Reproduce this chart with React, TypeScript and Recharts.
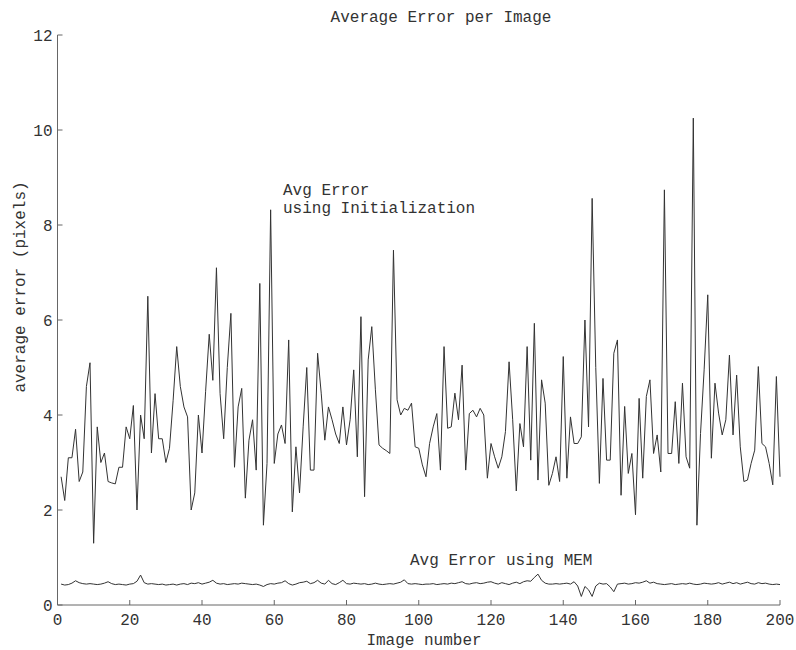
import React from 'react'
import { LineChart, Line, XAxis, YAxis } from 'recharts'

// Average error per image: initialization vs MEM (images 1..200)

const initError = [
  2.7, 2.2, 3.1, 3.1, 3.7, 2.6, 2.8, 4.6, 5.1, 1.3,
  3.75, 3.0, 3.2, 2.6, 2.57, 2.55, 2.9, 2.9, 3.75, 3.5,
  4.2, 2.0, 4.0, 3.5, 6.5, 3.2, 4.45, 3.5, 3.5, 3.0,
  3.3, 4.3, 5.44, 4.6, 4.17, 3.96, 2.0, 2.36, 4.0, 3.2,
  4.5, 5.7, 4.73, 7.1, 4.45, 3.5, 5.0, 6.14, 2.9, 4.17,
  4.56, 2.25, 3.47, 3.9, 2.84, 6.77, 1.68, 2.98, 8.32, 2.98,
  3.6, 3.79, 3.4, 5.58, 1.96, 3.33, 2.36, 3.75, 5.0, 2.84,
  2.84, 5.3, 4.46, 3.47, 4.17, 3.9, 3.6, 3.4, 4.17, 3.37,
  3.9, 4.95, 3.12, 6.07, 2.28, 5.16, 5.86, 4.53, 3.37, 3.3,
  3.25, 3.19, 7.47, 4.32, 4.0, 4.14, 4.1, 4.25, 3.33, 3.3,
  2.95, 2.7, 3.4, 3.75, 4.03, 2.84, 5.44, 3.72, 3.75, 4.46,
  3.9, 5.05, 2.84, 4.03, 4.1, 3.96, 4.14, 4.0, 2.67, 3.4,
  3.12, 2.88, 3.12, 3.65, 5.12, 3.9, 2.4, 3.82, 3.33, 5.44,
  3.05, 5.93, 2.63, 4.74, 4.25, 2.52, 2.77, 3.12, 2.6, 5.23,
  2.67, 3.96, 3.4, 3.4, 3.54, 6.0, 3.75, 8.56, 5.0, 2.56,
  4.77, 3.05, 3.05, 5.3, 5.58, 2.31, 4.18, 2.77, 3.19, 1.9,
  4.35, 2.67, 4.39, 4.74, 3.19, 3.58, 2.8, 8.74, 3.19, 3.19,
  4.28, 2.98, 4.67, 3.12, 2.88, 10.25, 1.68, 3.61, 4.95, 6.53,
  3.09, 4.67, 4.04, 3.58, 3.9, 5.26, 3.58, 4.84, 3.33, 2.6,
  2.63, 2.98, 3.26, 5.02, 3.4, 3.33, 2.98, 2.53, 4.81, 2.7,
]

const memError = [
  0.44, 0.42, 0.43, 0.46, 0.51, 0.47, 0.45, 0.44, 0.45, 0.44,
  0.43, 0.44, 0.46, 0.49, 0.45, 0.43, 0.44, 0.43, 0.42, 0.44,
  0.45, 0.5, 0.63, 0.47, 0.44, 0.45, 0.44, 0.43, 0.44, 0.42,
  0.43, 0.44, 0.42, 0.44, 0.45, 0.43, 0.46, 0.45, 0.47, 0.44,
  0.46, 0.48, 0.52, 0.46, 0.44, 0.45, 0.43, 0.44, 0.45, 0.44,
  0.46, 0.45, 0.44, 0.43, 0.44, 0.42, 0.39, 0.43, 0.45, 0.44,
  0.46, 0.47, 0.51, 0.45, 0.42, 0.44, 0.47, 0.48, 0.5, 0.45,
  0.47, 0.52, 0.46, 0.44, 0.52, 0.45, 0.43, 0.47, 0.52, 0.45,
  0.44, 0.46, 0.45, 0.44, 0.45, 0.43, 0.44, 0.46, 0.44, 0.43,
  0.44, 0.45, 0.44, 0.46, 0.48, 0.53, 0.45, 0.44, 0.45, 0.44,
  0.43, 0.44, 0.44, 0.45, 0.43, 0.44, 0.45, 0.44, 0.46, 0.45,
  0.47, 0.49, 0.45, 0.44, 0.46, 0.47, 0.45, 0.46, 0.48, 0.49,
  0.46, 0.44, 0.47, 0.45, 0.43, 0.46, 0.48, 0.45, 0.49, 0.51,
  0.5, 0.58, 0.65, 0.52, 0.46, 0.44, 0.44, 0.45, 0.44, 0.45,
  0.46, 0.44, 0.49, 0.4, 0.18, 0.39, 0.32, 0.18, 0.4, 0.46,
  0.44, 0.45, 0.38, 0.28, 0.44, 0.45, 0.46, 0.44, 0.45, 0.47,
  0.46, 0.48, 0.51, 0.46, 0.48, 0.45, 0.44, 0.43, 0.44, 0.45,
  0.43, 0.44, 0.45, 0.44, 0.46, 0.44, 0.43, 0.44, 0.46, 0.45,
  0.44, 0.45, 0.47, 0.44, 0.46, 0.48, 0.45, 0.47, 0.44, 0.46,
  0.48, 0.45, 0.44, 0.47, 0.45, 0.46, 0.44, 0.43, 0.44, 0.43,
]

const xTicks = [0, 20, 40, 60, 80, 100, 120, 140, 160, 180, 200]
const yTicks = [0, 2, 4, 6, 8, 10, 12]

const FONT = '"Liberation Mono", "DejaVu Sans Mono", monospace'

export default function App() {
  const data = initError.map((v, i) => ({ image: i + 1, init: v, mem: memError[i] }))

  const tickStyle = { fontFamily: FONT, fontSize: 16, fill: '#333' }

  return (
    <div style={{ position: 'absolute', left: 0, top: 0, width: 796, height: 650, background: '#fff' }}>
      <LineChart width={796} height={650} data={data} margin={{ top: 35, right: 16, bottom: 0, left: 0 }}>
        <XAxis
          dataKey="image"
          type="number"
          domain={[0, 200]}
          ticks={xTicks}
          height={45}
          tickSize={-5}
          tickMargin={14}
          stroke="#666"
          tick={tickStyle}
          interval={0}
        />
        <YAxis
          type="number"
          domain={[0, 12]}
          ticks={yTicks}
          width={57.5}
          tickSize={-5}
          tickMargin={10}
          stroke="#666"
          tick={tickStyle}
          interval={0}
        />
        <Line type="linear" dataKey="init" stroke="#333" strokeWidth={1} dot={false} isAnimationActive={false} />
        <Line type="linear" dataKey="mem" stroke="#333" strokeWidth={1} dot={false} isAnimationActive={false} />
      </LineChart>

      <svg
        width={796}
        height={650}
        style={{ position: 'absolute', left: 0, top: 0, pointerEvents: 'none' }}
        fontFamily={FONT}
        fontSize={16}
        fill="#333"
      >
        <text x={441} y={22} textAnchor="middle">Average Error per Image</text>
        <text x={424} y={645} textAnchor="middle">Image number</text>
        <text x={25} y={287} textAnchor="middle" transform="rotate(-90 25 287)">average error (pixels)</text>
        <text x={283} y={195}>Avg Error</text>
        <text x={283} y={213}>using Initialization</text>
        <text x={410} y={565}>Avg Error using MEM</text>
      </svg>
    </div>
  )
}
